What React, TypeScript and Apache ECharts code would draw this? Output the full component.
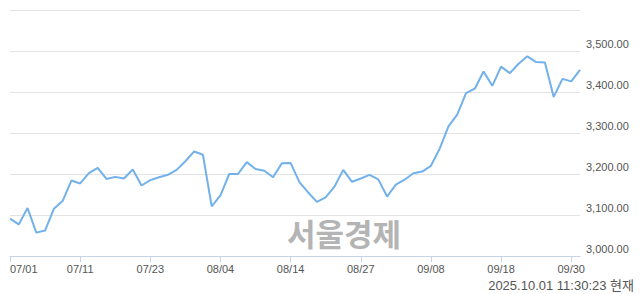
import React, { useEffect, useRef } from "react";
import * as echarts from "echarts";

const dates: string[] = [
  "07/01", "07/02", "07/03", "07/04", "07/07", "07/08", "07/09", "07/10", "07/11", "07/14",
  "07/15", "07/16", "07/17", "07/18", "07/21", "07/22", "07/23", "07/24", "07/25", "07/28",
  "07/29", "07/30", "07/31", "08/01", "08/04", "08/05", "08/06", "08/07", "08/08", "08/11",
  "08/12", "08/13", "08/14", "08/18", "08/19", "08/20", "08/21", "08/22", "08/25", "08/26",
  "08/27", "08/28", "08/29", "09/01", "09/02", "09/03", "09/04", "09/05", "09/08", "09/09",
  "09/10", "09/11", "09/12", "09/15", "09/16", "09/17", "09/18", "09/19", "09/22", "09/23",
  "09/24", "09/25", "09/26", "09/29", "09/30", "10/01",
];

const values: number[] = [
  3091, 3077, 3117, 3057, 3062, 3115, 3134, 3184, 3177, 3202,
  3215, 3188, 3193, 3189, 3211, 3172, 3185, 3192, 3198, 3210,
  3231, 3255, 3247, 3121, 3148, 3200, 3200, 3229, 3212, 3208,
  3192, 3226, 3227, 3180, 3155, 3132, 3143, 3169, 3210, 3181,
  3189, 3198, 3187, 3145, 3174, 3186, 3202, 3206, 3220, 3262,
  3316, 3345, 3397, 3408, 3450, 3415, 3462, 3446, 3469, 3487,
  3473, 3472, 3388, 3432, 3426, 3454,
];

const yMin = 3000;
const yMax = 3600;
const yStep = 100;
const watermark = "서울경제";
const timestamp = "2025.10.01 11:30:23 현재";

export default function App() {
  const ref = useRef<HTMLDivElement>(null);
  useEffect(() => {
    if (!ref.current) return;
    const chart = echarts.init(ref.current, undefined, { renderer: "svg" });
    chart.setOption({
      animation: false,
      grid: { left: 10, right: 60, top: 10, bottom: 38 },
      xAxis: {
        type: "category",
        data: dates,
        boundaryGap: false,
        axisLine: { lineStyle: { color: "#c6d3e8", width: 1 } },
        axisTick: { interval: 7, length: 6, lineStyle: { color: "#c6d3e8" } },
        axisLabel: {
          interval: 7,
          margin: 7,
          color: "#555",
          fontSize: 11,
          fontFamily: "Liberation Sans",
          alignMinLabel: "left",
        },
        splitLine: { show: false },
      },
      yAxis: {
        type: "value",
        position: "right",
        min: yMin,
        max: yMax,
        interval: yStep,
        axisLine: { show: false },
        axisTick: { show: false },
        splitLine: { lineStyle: { color: "#e3e3e3", width: 1 } },
        axisLabel: {
          margin: 6,
          color: "#555",
          fontSize: 11,
          fontFamily: "Liberation Sans",
          verticalAlign: "bottom",
          padding: [0, 0, 2, 0],
          formatter: (v: number) =>
            v >= yMax
              ? ""
              : v.toLocaleString("en-US", { minimumFractionDigits: 2, maximumFractionDigits: 2 }),
        },
      },
      graphic: [
        {
          type: "text",
          left: 287,
          top: 217,
          z: 0,
          style: {
            text: watermark,
            font: 'bold 31px "Noto Sans CJK KR"',
            fill: "#b4b4b4",
          },
        },
        {
          type: "text",
          right: 6,
          top: 279,
          style: {
            text: timestamp,
            font: '13px "Liberation Sans", "Noto Sans CJK KR"',
            fill: "#555",
          },
        },
      ],
      series: [
        {
          type: "line",
          data: values,
          symbol: "none",
          z: 5,
          lineStyle: { color: "#72b1ea", width: 2 },
        },
      ],
    });
    return () => chart.dispose();
  }, []);
  return (
    <div
      ref={ref}
      style={{ position: "fixed", left: 0, top: 0, width: 640, height: 294, background: "#fff" }}
    />
  );
}
